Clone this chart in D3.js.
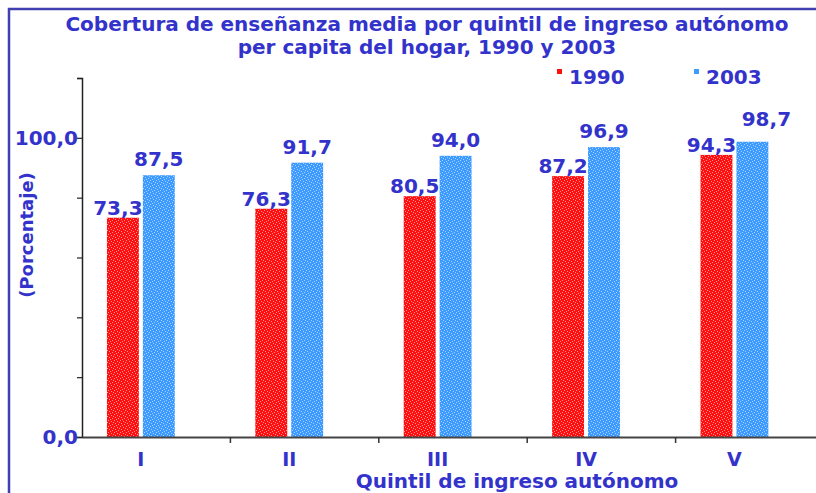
<html>
<head>
<meta charset="utf-8">
<title>Cobertura de enseñanza media</title>
<script src="https://d3js.org/d3.v7.min.js"></script>
<style>
body { margin: 0; background: #fff; }
text { font-family: "DejaVu Sans", Verdana, sans-serif; font-weight: bold; fill: #3333cc; }
</style>
</head>
<body>
<svg id="chart" width="816" height="493"></svg>
<script>
// data
var quintiles = ["I", "II", "III", "IV", "V"];
var years = ["1990", "2003"];
var v1990 = [73.3, 76.3, 80.5, 87.2, 94.3];
var v2003 = [87.5, 91.7, 94.0, 96.9, 98.7];
var yTicks = [0, 20, 40, 60, 80, 100, 120];
var yLabelled = [0, 100];

var svg = d3.select("#chart");
var colors = { "1990": "#ff1010", "2003": "#3d9bff" };

// speckled fill like the original
var defs = svg.append("defs");
function speckle(id, base) {
	var p = defs.append("pattern").attr("id", id)
		.attr("patternUnits", "userSpaceOnUse")
		.attr("width", 6).attr("height", 6);
	p.append("rect").attr("width", 6).attr("height", 6).attr("fill", base);
	var dots = [[0,0],[3,1],[1,3],[4,4],[2,5],[5,2]];
	dots.forEach(function (d) {
		p.append("rect").attr("x", d[0]).attr("y", d[1])
			.attr("width", 1).attr("height", 1)
			.attr("fill", "#fff").attr("opacity", 0.55);
	});
}
speckle("pat1990", colors["1990"]);
speckle("pat2003", colors["2003"]);

// frame
svg.append("path")
	.attr("d", "M9,820 L9,9 L830,9")
	.attr("fill", "none").attr("stroke", "#4040b0").attr("stroke-width", 2.5);

var x = d3.scaleBand().domain(quintiles).range([82, 824]);
var y = d3.scaleLinear().domain([0, 120]).range([437, 78]);

// bar geometry inside each band
var bw = x.bandwidth();
var off1990 = bw * 0.168, off2003 = bw * 0.41, barW = bw * 0.215;

var rows = quintiles.map(function (q, i) { return { q: q, a: v1990[i], b: v2003[i] }; });

var g = svg.append("g");
g.selectAll("rect.b1990").data(rows).enter().append("rect")
	.attr("x", function (d) { return x(d.q) + off1990; })
	.attr("y", function (d) { return y(d.a); })
	.attr("width", barW)
	.attr("height", function (d) { return y(0) - y(d.a); })
	.attr("fill", "url(#pat1990)");
g.selectAll("rect.b2003").data(rows).enter().append("rect")
	.attr("x", function (d) { return x(d.q) + off2003; })
	.attr("y", function (d) { return y(d.b); })
	.attr("width", barW)
	.attr("height", function (d) { return y(0) - y(d.b); })
	.attr("fill", "url(#pat2003)");

var fmt = function (v) { return v.toFixed(1).replace(".", ","); };

// value labels
g.selectAll("text.l1990").data(rows).enter().append("text")
	.attr("x", function (d) { return x(d.q) + off1990 + barW / 2 - 5; })
	.attr("y", function (d) { return y(d.a) - 3; })
	.attr("text-anchor", "middle").attr("font-size", 20)
	.text(function (d) { return fmt(d.a); });
g.selectAll("text.l2003").data(rows).enter().append("text")
	.attr("x", function (d, i) { return x(d.q) + off2003 + barW / 2 + (i == 4 ? 14 : 0); })
	.attr("y", function (d, i) { return y(d.b) - (i == 4 ? 16 : 9); })
	.attr("text-anchor", "middle").attr("font-size", 20)
	.text(function (d) { return fmt(d.b); });

// y axis
var yAxis = svg.append("g").attr("transform", "translate(82,0)")
	.call(d3.axisLeft(y).tickValues(yTicks).tickSize(5).tickFormat(""));
yAxis.select(".domain").attr("stroke", "#222").attr("stroke-width", 1.5);
yAxis.selectAll(".tick line").attr("stroke", "#222").attr("stroke-width", 1.2);
svg.selectAll("text.ylab").data(yLabelled).enter().append("text")
	.attr("x", 78).attr("y", function (d) { return y(d) + 7; })
	.attr("text-anchor", "end").attr("font-size", 20)
	.text(fmt);

// x axis
var xAxis = svg.append("g").attr("transform", "translate(0,437)")
	.call(d3.axisBottom(x).tickSize(0).tickFormat(""));
xAxis.select(".domain").attr("stroke", "#444").attr("stroke-width", 2);
svg.selectAll("line.xtick").data(quintiles.slice(1)).enter().append("line")
	.attr("x1", function (d) { return x(d); }).attr("x2", function (d) { return x(d); })
	.attr("y1", 437).attr("y2", 443)
	.attr("stroke", "#333").attr("stroke-width", 1.5);
svg.selectAll("text.xlab").data(quintiles).enter().append("text")
	.attr("x", function (d) { return x(d) + (off1990 + off2003 + barW) / 2; })
	.attr("y", 466)
	.attr("text-anchor", "middle").attr("font-size", 19)
	.text(function (d) { return d; });

// titles
var title = svg.append("text").attr("x", 427).attr("text-anchor", "middle").attr("font-size", 20);
title.append("tspan").attr("x", 427).attr("y", 31).text("Cobertura de enseñanza media por quintil de ingreso autónomo");
title.append("tspan").attr("x", 427).attr("y", 54).text("per capita del hogar, 1990 y 2003");

svg.append("text").attr("x", 517).attr("y", 488)
	.attr("text-anchor", "middle").attr("font-size", 20)
	.text("Quintil de ingreso autónomo");

svg.append("text").attr("transform", "translate(33,235) rotate(-90)")
	.attr("text-anchor", "middle").attr("font-size", 18)
	.text("(Porcentaje)");

// legend
var legX = [557, 694];
var leg = svg.selectAll("g.leg").data(years).enter().append("g")
	.attr("transform", function (d, i) { return "translate(" + legX[i] + ",69)"; });
leg.append("rect").attr("width", 5).attr("height", 5)
	.attr("fill", function (d) { return colors[d]; });
leg.append("text").attr("x", 12).attr("y", 15).attr("font-size", 20)
	.text(function (d) { return d; });
</script>
</body>
</html>
